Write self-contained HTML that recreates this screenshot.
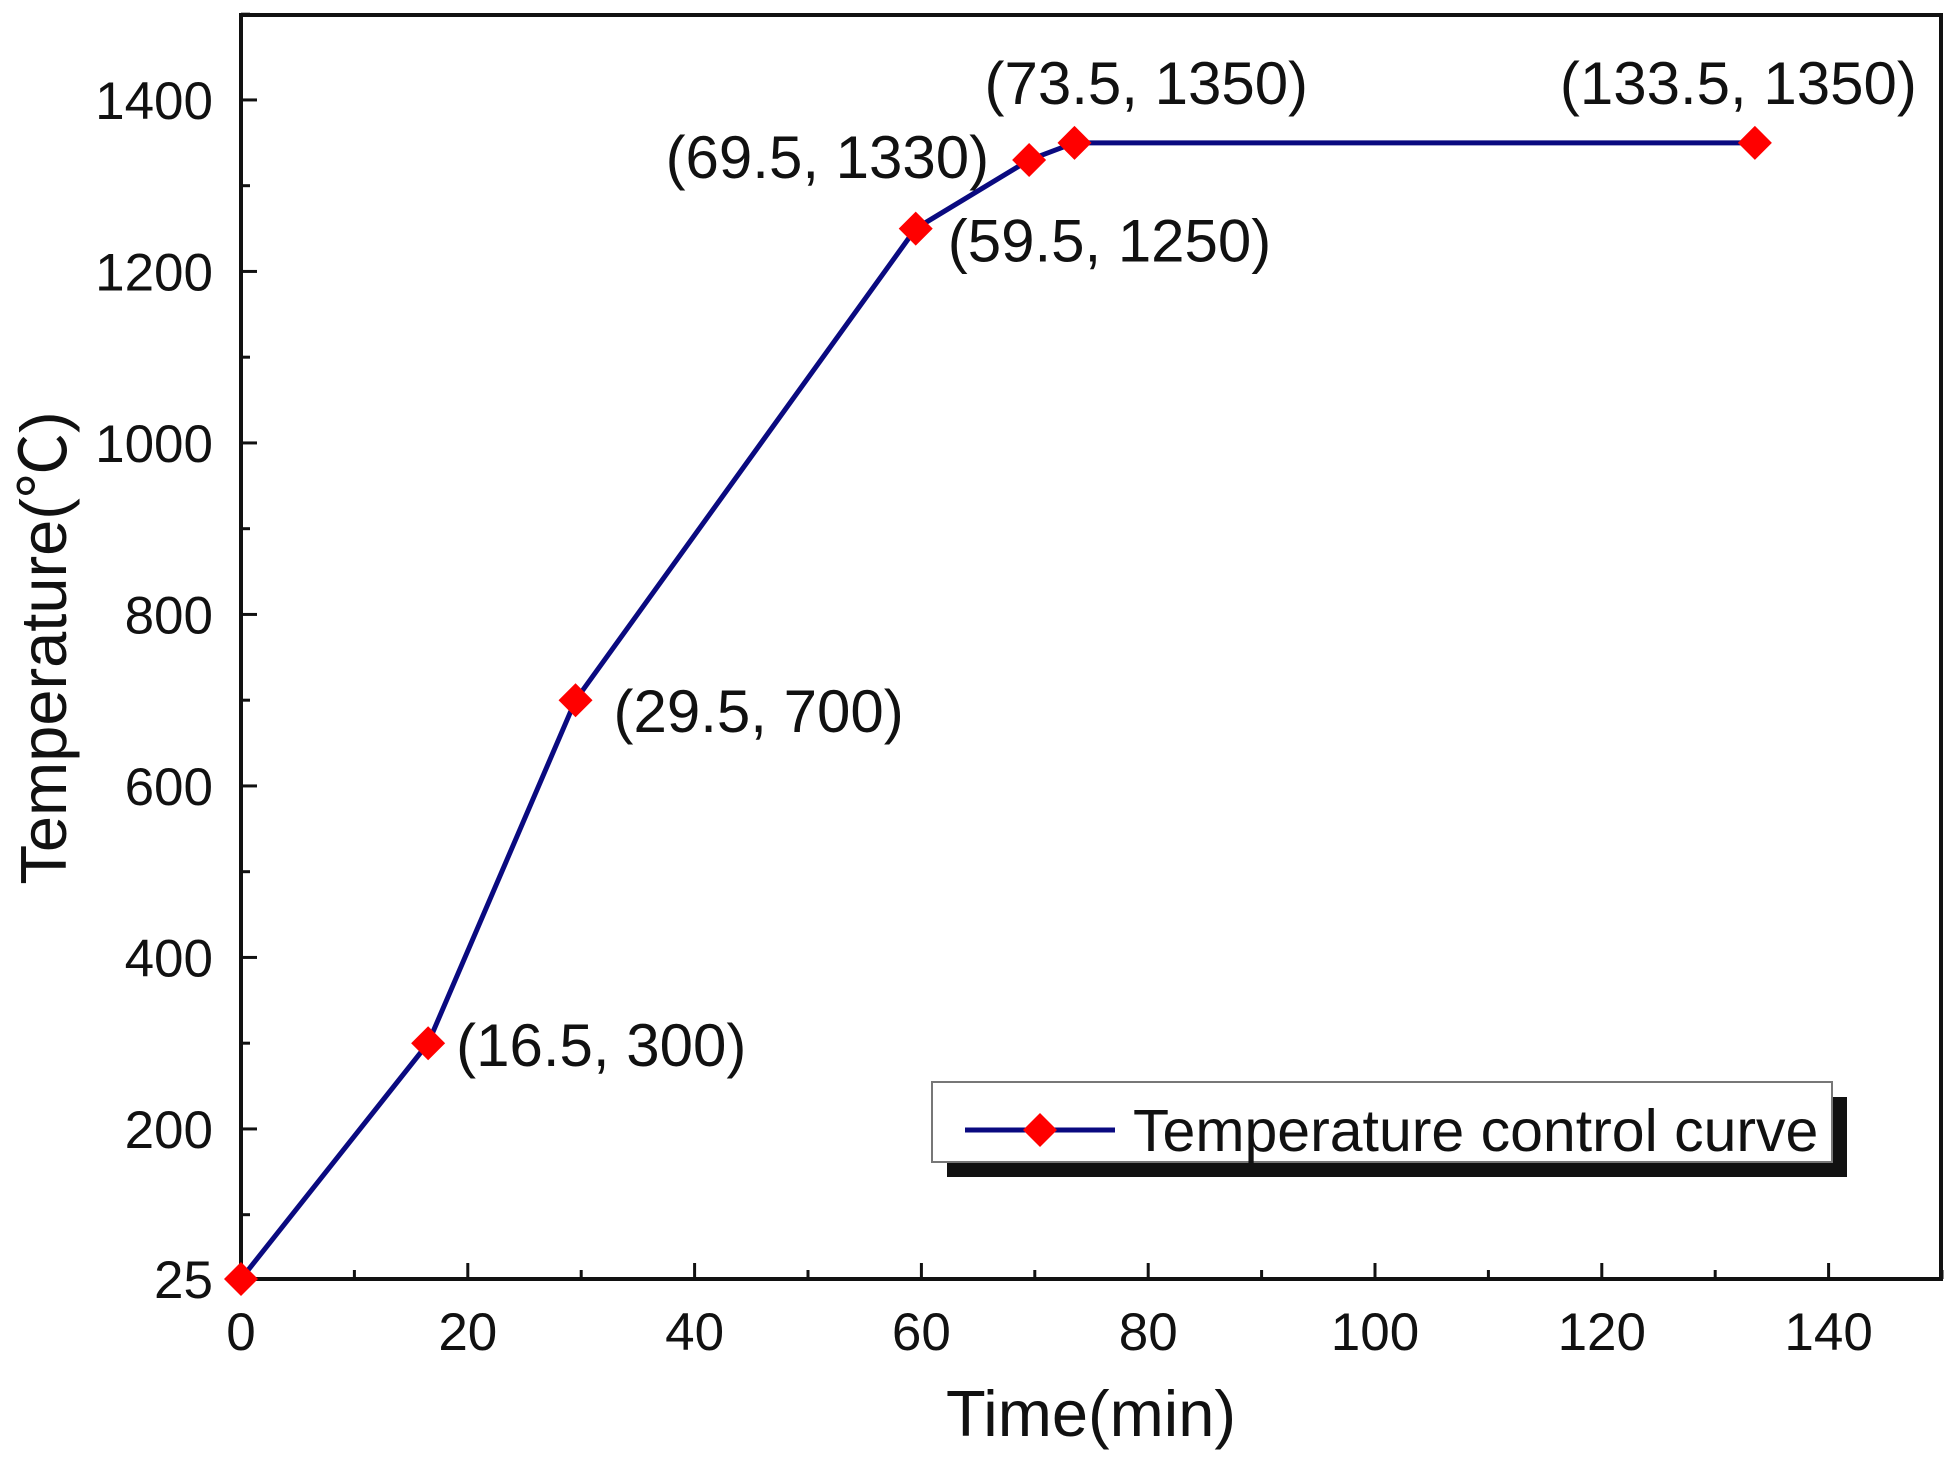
<!DOCTYPE html>
<html><head><meta charset="utf-8"><style>
body{margin:0;background:#fff}
svg text{font-family:"Liberation Sans","Noto Sans CJK SC",sans-serif;fill:#111}
</style></head><body>
<svg id="c" width="1959" height="1462" viewBox="0 0 1959 1462">
<g id="g"></g>
</svg>
<script>
const times=[0,16.5,29.5,59.5,69.5,73.5,133.5];
const temps=[25,300,700,1250,1330,1350,1350];
const labels=["","(16.5, 300)","(29.5, 700)","(59.5, 1250)","(69.5, 1330)","(73.5, 1350)","(133.5, 1350)"];
const xTicks=[0,20,40,60,80,100,120,140];
const yTicks=[200,400,600,800,1000,1200,1400];
const L=241,R=1941,T=15,B=1279;
const X=v=>L+v*11.34;
const Y=v=>B-(v-25)*0.8575;
const ns="http://www.w3.org/2000/svg",g=document.getElementById('g');
function mk(t,a,p){const e=document.createElementNS(ns,t);for(const k in a)e.setAttribute(k,a[k]);(p||g).appendChild(e);return e;}
let e;
e=mk('rect',{x:L,y:T,width:R-L,height:B-T,fill:'none',stroke:'#111','stroke-width':4});

for(let v=0;v<=150;v+=10){const maj=v%20==0;e=mk('line',{x1:X(v),x2:X(v),y1:B,y2:B-(maj?16:9),stroke:'#111','stroke-width':3});
}
xTicks.forEach(v=>{e=mk('text',{x:X(v),y:1350,'font-size':53,'text-anchor':'middle'});e.textContent=v;
});
for(let v=100;v<=1500;v+=100){const maj=v%200==0;e=mk('line',{x1:L,x2:L+(maj?16:9),y1:Y(v),y2:Y(v),stroke:'#111','stroke-width':3});
}
yTicks.concat([25]).forEach(v=>{e=mk('text',{x:213,y:Y(v)+19,'font-size':53,'text-anchor':'end'});e.textContent=v;
});
e=mk('text',{x:1091,y:1436,'font-size':65,'text-anchor':'middle'});e.textContent='Time(min)';

e=mk('text',{x:0,y:0,'font-size':65,'text-anchor':'middle',transform:'translate(66,648) rotate(-90)'});e.textContent='Temperature(℃)';

e=mk('polyline',{points:times.map((t,i)=>X(t)+','+Y(temps[i])).join(' '),fill:'none',stroke:'#0a0a80','stroke-width':5});

const d=17;
times.forEach((t,i)=>{const x=X(t),y=Y(temps[i]);
e=mk('polygon',{points:`${x},${y-d} ${x+d},${y} ${x},${y+d} ${x-d},${y}`,fill:'#f00'});
});
const off=[[0,0],[28,2],[38,11],[32,12],[-40,-3],[-90,-60],[-195,-60]];
const anc=['start','start','start','start','end','start','start'];
labels.forEach((s,i)=>{if(!s)return;e=mk('text',{x:X(times[i])+off[i][0],y:Y(temps[i])+off[i][1]+21,'font-size':60,'text-anchor':anc[i]});e.textContent=s;
});
e=mk('rect',{x:947,y:1097,width:900,height:80,fill:'#111'});

e=mk('rect',{x:932,y:1082,width:900,height:80,fill:'#fff',stroke:'#777','stroke-width':2});

e=mk('line',{x1:965,x2:1115,y1:1130,y2:1130,stroke:'#0a0a80','stroke-width':5});

e=mk('polygon',{points:`1040,${1130-d} ${1040+d},1130 1040,${1130+d} ${1040-d},1130`,fill:'#f00'});

e=mk('text',{x:1133,y:1151,'font-size':59});e.textContent='Temperature control curve';

</script>
</body></html>
